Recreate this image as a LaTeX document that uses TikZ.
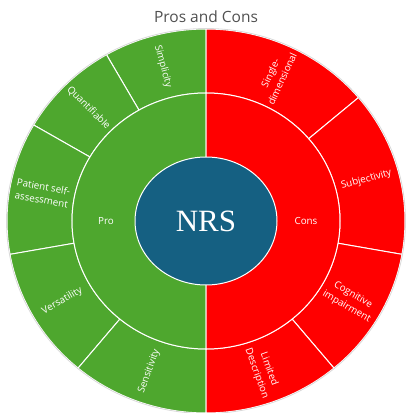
\documentclass[tikz,border=0pt]{standalone}
\usepackage{xcolor}
\usepackage{fontspec}
\setmainfont{Open Sans}
\newfontfamily\nrsfont{Liberation Serif}
\usepackage{tikz}
\usetikzlibrary{shapes.geometric}

\definecolor{proGreen}{HTML}{4EA72E}
\definecolor{conRed}{HTML}{FF0000}
\definecolor{nrsBlue}{HTML}{156082}
\definecolor{titleGray}{HTML}{505050}

\tikzset{
  wedge/.style={draw=white, line width=1pt},
  seglabel/.style={text=white, font=\fontsize{9.8}{13}\selectfont, align=center, inner sep=0pt},
  halflabel/.style={text=white, font=\fontsize{9.8}{13}\selectfont, inner sep=0pt},
  centerdisc/.style={ellipse, draw=white, line width=1pt, fill=nrsBlue, text=white,
    minimum width=142pt, minimum height=128pt, font=\nrsfont\fontsize{31}{31}\selectfont},
  titletext/.style={text=titleGray, font=\fontsize{15.5}{17}\selectfont}
}

\begin{document}
\begin{tikzpicture}[x=1pt, y=1pt]
\useasboundingbox (0,0) rectangle (405,413);
\node[titletext] (Title) at (206,396) {Pros and Cons};
\begin{scope}[shift={(206,192)}]
% outer ring of sub-items
\foreach \a/\b/\col in {90/120/proGreen, 120/150/proGreen, 150/190/proGreen, 190/230/proGreen, 230/270/proGreen, 40/90/conRed, -10/40/conRed, -50/-10/conRed, -90/-50/conRed}
  \filldraw[wedge, fill=\col] (\a:199 and 192) arc[start angle=\a, end angle=\b, x radius=199, y radius=192] -- (\b:134 and 128) arc[start angle=\b, end angle=\a, x radius=134, y radius=128] -- cycle;
\draw[gray!30, line width=0.8pt] (0,0) ellipse[x radius=199.5, y radius=192.5];
% inner ring
\filldraw[wedge, fill=proGreen] (90:134 and 128) arc[start angle=90, end angle=270, x radius=134, y radius=128] -- cycle;
\filldraw[wedge, fill=conRed] (-90:134 and 128) arc[start angle=-90, end angle=90, x radius=134, y radius=128] -- cycle;
\node[centerdisc] (NRS) at (0,0) {NRS};
\node[halflabel] (Pro) at (180:100 and 96) {Pro};
\node[halflabel] (Cons) at (0:100 and 96) {Cons};
\foreach \ang/\rot/\txt [count=\i] in {105/-75/Simplicity, 135/-45/Quantifiable, 170/-10/{Patient self-\\assessment}, 210/30/Versatility, 250/70/Sensitivity, 65/65/{Single-\\dimensional}, 15/15/Subjectivity, -30/-30/{Cognitive\\impairment}, -70/-70/{Limited\\Description}}
  \node[seglabel, rotate=\rot] (Seg\i) at (\ang:166 and 160) {\txt};
\end{scope}
\end{tikzpicture}
\end{document}
